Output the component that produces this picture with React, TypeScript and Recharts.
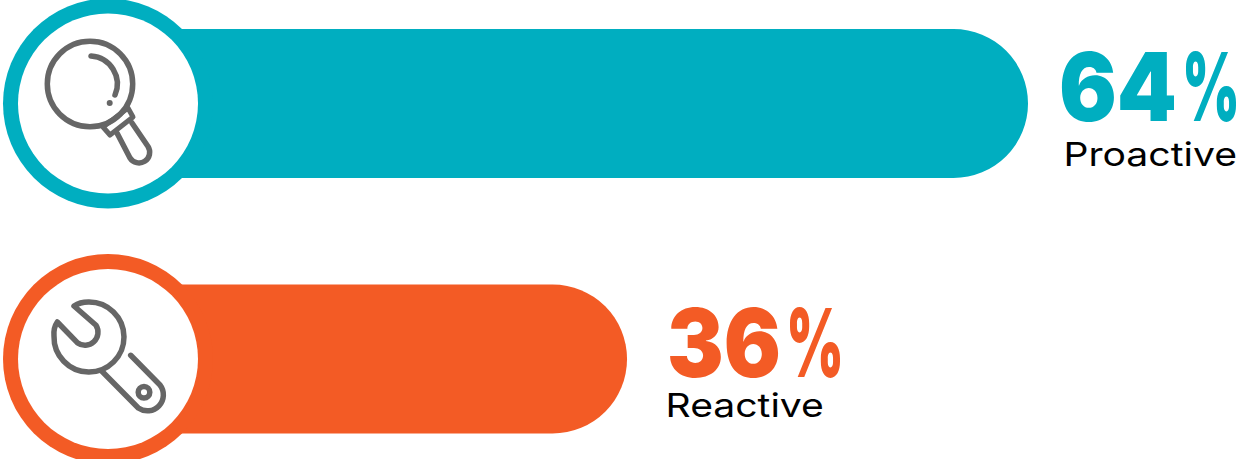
import React from 'react'
import { BarChart, Bar, XAxis, YAxis, LabelList } from 'recharts'

const categories = ['Proactive', 'Reactive']
const shares = [64, 36]
const colors = ['#00AEC0', '#F35B25']

const data = categories.map((name, i) => ({ name, share: shares[i] }))

const ICON_GREY = '#666666'
const BAR_HEIGHT = 149
const BADGE_CX = 108

// label placement per row, measured from the end of the bar
const VALUE_GAP = [31, 40]
const VALUE_WIDTH = [118, 114]
const NAME_GAP = [35.5, 38.5]
const NAME_DROP = [62, 58]

const iconProps = {
  fill: 'none',
  stroke: ICON_GREY,
  strokeWidth: 5.5,
  strokeLinecap: 'round' as const,
  strokeLinejoin: 'round' as const,
}

const MagnifierIcon = () => (
  <g {...iconProps}>
    <circle cx={-18} cy={-19.5} r={42.7} />
    <path d="M-17,-47.5 A28,28 0 0 1 7,-8.5" />
    <circle cx={1.7} cy={-0.5} r={3} fill={ICON_GREY} stroke="none" />
    <path d="M20,4.5 L25,13.5 L2,31.5 L-5,23.5 Z" strokeWidth={5} />
    <path d="M24,19.5 L40,43 A10.5,10.5 0 0 1 22,54.5 L9,29.5" />
  </g>
)

const WrenchIcon = () => (
  <g {...iconProps}>
    <path d="M-34,-53 Q-28,-57 -19.7,-57 A35,35 0 1 1 -54,-23 Q-54.7,-31.3 -50.7,-37 L-30.7,-16.3 A13,13 0 0 0 -12,-33.7 Z" />
    <path d="M-6.3,12 L30.3,49 A16,16 0 0 0 52,26 L22.7,-3.7" />
    <circle cx={36} cy={33.3} r={5.8} />
  </g>
)

const icons = [MagnifierIcon, WrenchIcon]

// rounded bar with the ringed icon badge sitting over its left end
const BadgeBar = (props: any) => {
  const { x, y, width, height, index } = props
  const r = height / 2
  const cy = y + r
  const fill = colors[index]
  const Icon = icons[index]
  const right = x + width
  return (
    <g>
      <path
        d={`M${x},${y} H${right - r} A${r},${r} 0 0 1 ${right - r},${y + height} H${x} Z`}
        fill={fill}
      />
      <circle cx={BADGE_CX} cy={cy} r={105} fill={fill} />
      <circle cx={BADGE_CX} cy={cy} r={90} fill="#fff" />
      <g transform={`translate(${BADGE_CX},${cy})`}>
        <Icon />
      </g>
    </g>
  )
}

const ShareLabel = (props: any) => {
  const { x, y, width, height, index, value } = props
  const barEnd = x + width
  const cy = y + height / 2
  return (
    <g>
      <text x={barEnd + VALUE_GAP[index]} y={cy + 17.5} fill={colors[index]} fontFamily="Inter, sans-serif" fontSize={95} fontWeight={900}>
        <tspan textLength={VALUE_WIDTH[index]} lengthAdjust="spacingAndGlyphs">{value}</tspan>
        <tspan dx={5} textLength={58} lengthAdjust="spacingAndGlyphs">%</tspan>
      </text>
      <text
        transform={`translate(${barEnd + NAME_GAP[index]},${cy + NAME_DROP[index]}) scale(1.185,1)`}
        fill="#000"
        fontFamily="Inter, sans-serif"
        fontSize={33}
        fontWeight={400}
      >
        {categories[index]}
      </text>
    </g>
  )
}

export default function App() {
  return (
    <div style={{ position: 'absolute', left: 0, top: 0, width: 1237, height: 459, overflow: 'hidden' }}>
      <div style={{ marginTop: -24 }}>
        <BarChart
          width={1237}
          height={511}
          data={data}
          layout="vertical"
          margin={{ top: 0, right: 8.5, bottom: 0, left: 111.5 }}
        >
          <XAxis type="number" domain={[0, 78]} hide />
          <YAxis type="category" dataKey="name" hide />
          <Bar dataKey="share" barSize={BAR_HEIGHT} shape={<BadgeBar />} isAnimationActive={false}>
            <LabelList dataKey="share" content={<ShareLabel />} />
          </Bar>
        </BarChart>
      </div>
    </div>
  )
}
